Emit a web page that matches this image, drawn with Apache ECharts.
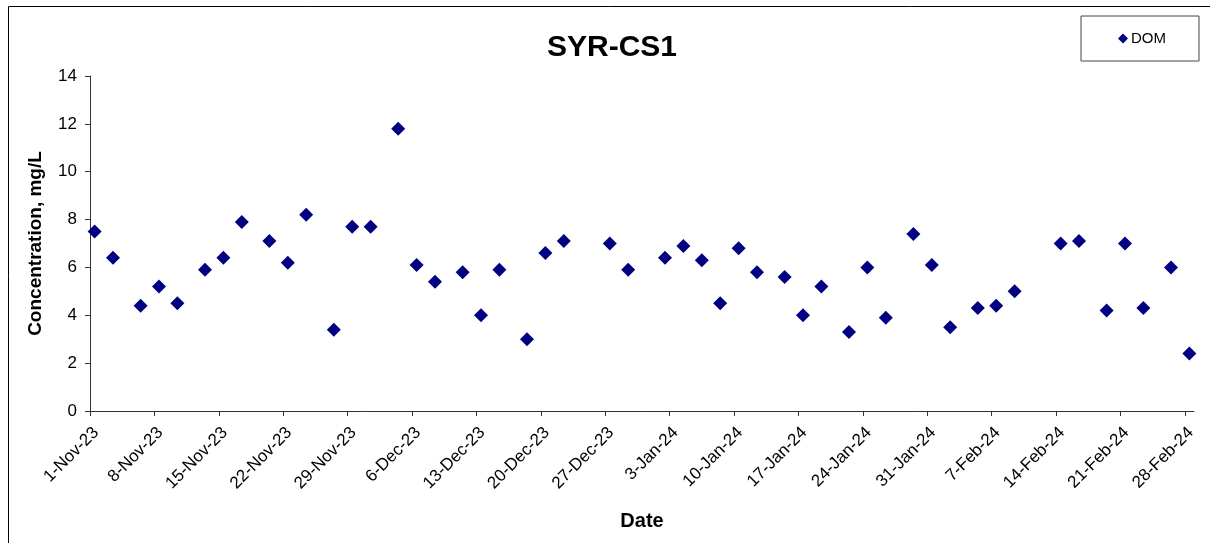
<!DOCTYPE html>
<html><head><meta charset="utf-8">
<script src="https://cdn.jsdelivr.net/npm/echarts@6/dist/echarts.min.js"></script>
<style>html,body{margin:0;padding:0;background:#fff}#chart{width:1210px;height:543px}</style>
</head><body><div id="chart"></div>
<script>
const chartTitle = 'SYR-CS1';
const seriesName = 'DOM';
const sampleDates = [
  '2023-11-01','2023-11-03','2023-11-06','2023-11-08','2023-11-10','2023-11-13','2023-11-15','2023-11-17',
  '2023-11-20','2023-11-22','2023-11-24','2023-11-27','2023-11-29','2023-12-01','2023-12-04','2023-12-06',
  '2023-12-08','2023-12-11','2023-12-13','2023-12-15','2023-12-18','2023-12-20','2023-12-22','2023-12-27',
  '2023-12-29','2024-01-02','2024-01-04','2024-01-06','2024-01-08','2024-01-10','2024-01-12','2024-01-15',
  '2024-01-17','2024-01-19','2024-01-22','2024-01-24','2024-01-26','2024-01-29','2024-01-31','2024-02-02',
  '2024-02-05','2024-02-07','2024-02-09','2024-02-14','2024-02-16','2024-02-19','2024-02-21','2024-02-23',
  '2024-02-26','2024-02-28'
];
const domValues = [
  7.5, 6.4, 4.4, 5.2, 4.5, 5.9, 6.4, 7.9,
  7.1, 6.2, 8.2, 3.4, 7.7, 7.7, 11.8, 6.1,
  5.4, 5.8, 4.0, 5.9, 3.0, 6.6, 7.1, 7.0,
  5.9, 6.4, 6.9, 6.3, 4.5, 6.8, 5.8, 5.6,
  4.0, 5.2, 3.3, 6.0, 3.9, 7.4, 6.1, 3.5,
  4.3, 4.4, 5.0, 7.0, 7.1, 4.2, 7.0, 4.3,
  6.0, 2.4
];
const tickDates = [
  '2023-11-01','2023-11-08','2023-11-15','2023-11-22','2023-11-29','2023-12-06','2023-12-13','2023-12-20',
  '2023-12-27','2024-01-03','2024-01-10','2024-01-17','2024-01-24','2024-01-31','2024-02-07','2024-02-14',
  '2024-02-21','2024-02-28'
];
const axisStart = '2023-11-01';
const axisEnd = '2024-02-29';
const monthNames = ['Jan','Feb','Mar','Apr','May','Jun','Jul','Aug','Sep','Oct','Nov','Dec'];

function toTs(s, hour) {
  const p = s.split('-').map(Number);
  return Date.UTC(p[0], p[1] - 1, p[2], hour || 0);
}
function fmt(v) {
  const d = new Date(v);
  return d.getUTCDate() + '-' + monthNames[d.getUTCMonth()] + '-' + String(d.getUTCFullYear()).slice(2);
}
const tickTs = tickDates.map(d => toTs(d));
const font = '"Liberation Sans", Arial, sans-serif';
const axisColor = '#333';

const chart = echarts.init(document.getElementById('chart'), null, {renderer: 'canvas'});
chart.setOption({
  backgroundColor: '#fff',
  animation: false,
  title: {
    text: chartTitle, left: 547, top: 33, padding: 0,
    textStyle: {fontFamily: font, fontSize: 30, fontWeight: 'bold', color: '#000'}
  },
  legend: {
    data: [seriesName], left: 1081, top: 16, orient: 'horizontal',
    padding: [15, 33, 15, 37], itemWidth: 10, itemHeight: 10, itemGap: 5,
    icon: 'diamond', borderColor: '#444', borderWidth: 1, backgroundColor: '#fff',
    textStyle: {fontFamily: font, fontSize: 15, color: '#000', padding: [0, 0, 0, -2]}
  },
  grid: {left: 90, right: 16, top: 76, bottom: 132, containLabel: false},
  xAxis: {
    type: 'value', min: toTs(axisStart), max: toTs(axisEnd),
    name: 'Date', nameLocation: 'middle', nameGap: 100,
    nameTextStyle: {fontFamily: font, fontSize: 20, fontWeight: 'bold', color: '#000'},
    axisLine: {show: true, lineStyle: {color: axisColor, width: 1}},
    axisTick: {show: true, customValues: tickTs, length: 5, inside: false, lineStyle: {color: axisColor}},
    axisLabel: {customValues: tickTs, rotate: 45, margin: 13, formatter: fmt, verticalAlign: 'top',
      fontFamily: font, fontSize: 17, color: '#000', hideOverlap: false},
    splitLine: {show: false}
  },
  yAxis: {
    type: 'value', min: 0, max: 14, interval: 2,
    name: 'Concentration, mg/L', nameLocation: 'middle', nameGap: 45, nameRotate: 90,
    nameTextStyle: {fontFamily: font, fontSize: 19, fontWeight: 'bold', color: '#000'},
    axisLine: {show: true, lineStyle: {color: axisColor, width: 1}},
    axisTick: {show: true, length: 5, inside: false, lineStyle: {color: axisColor}},
    axisLabel: {margin: 13, fontFamily: font, fontSize: 17, color: '#000'},
    splitLine: {show: false}
  },
  series: [{
    name: seriesName, type: 'scatter', symbol: 'diamond', symbolSize: 14,
    itemStyle: {color: '#000080', opacity: 1},
    data: sampleDates.map((d, i) => [toTs(d, 12), domValues[i]])
  }],
  graphic: [{
    type: 'rect', silent: true, z: -1,
    shape: {x: 8.5, y: 6.5, width: 1400, height: 700},
    style: {fill: 'none', stroke: '#000', lineWidth: 1}
  }]
});
</script></body></html>
